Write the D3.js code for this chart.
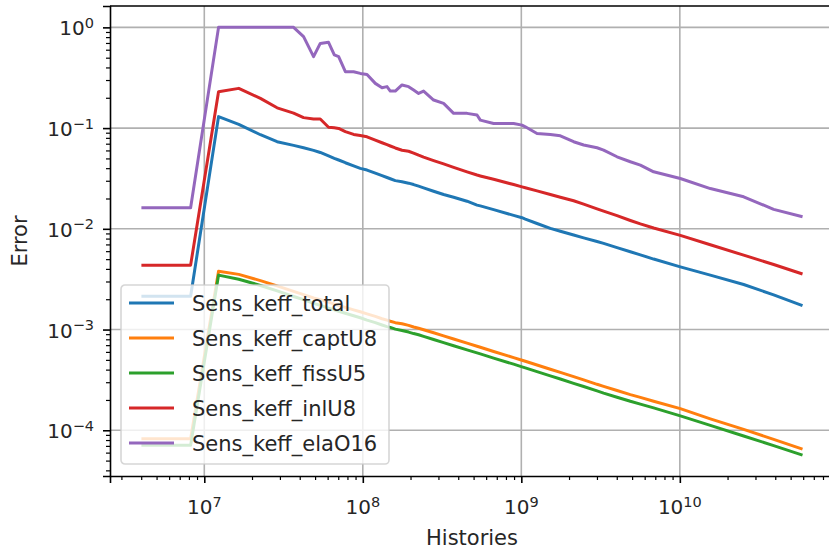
<!DOCTYPE html>
<html>
<head>
<meta charset="utf-8">
<script src="https://cdn.jsdelivr.net/npm/d3@7"></script>
<style>
    body { margin: 0; background: #fff; }
    svg { display: block; font-family: 'DejaVu Sans', sans-serif; }
</style>
</head>
<body>
<svg width="829" height="549"></svg>
<script>
// Number of histories at each sample point (shared by all series)
const histories = [
    4.1e6, 8.2e6, 1.23e7, 1.65e7, 2.26e7, 2.88e7, 3.66e7, 4.23e7, 4.89e7, 5.39e7,
    6.08e7, 6.61e7, 7.04e7, 7.76e7, 8.75e7, 9.64e7, 1.063e8, 1.199e8, 1.322e8, 1.421e8,
    1.491e8, 1.603e8, 1.767e8, 1.945e8, 2.092e8, 2.249e8, 2.418e8, 2.797e8, 3.234e8, 3.741e8,
    4.544e8, 5.254e8, 5.512e8, 6.687e8, 8.94e8, 1.01e9, 1.06e9, 1.256e9, 1.524e9, 1.763e9,
    2.138e9, 2.473e9, 3.004e9, 3.305e9, 4.016e9, 4.873e9, 5.636e9, 6.834e9, 1.007e10, 1.557e10,
    2.527e10, 3.907e10, 5.82e10
];

const seriesNames = ['Sens_keff_total', 'Sens_keff_captU8', 'Sens_keff_fissU5', 'Sens_keff_inlU8', 'Sens_keff_elaO16'];
const seriesColors = ['#1f77b4', '#ff7f0e', '#2ca02c', '#d62728', '#9467bd'];

const errTotal = [
    0.00214, 0.00214, 0.130, 0.109, 0.0859, 0.0732, 0.0674, 0.0638, 0.0601, 0.0573,
    0.0530, 0.0501, 0.0482, 0.0453, 0.0422, 0.0398, 0.0383, 0.0357, 0.0337, 0.0323,
    0.0314, 0.0301, 0.0293, 0.0284, 0.0275, 0.0265, 0.0255, 0.0236, 0.0219, 0.0206,
    0.0188, 0.0172, 0.0169, 0.0155, 0.0136, 0.0129, 0.0125, 0.0113, 0.0101, 0.00945,
    0.00868, 0.00814, 0.00748, 0.00716, 0.00650, 0.00592, 0.00552, 0.00501, 0.00419, 0.00347,
    0.00280, 0.00221, 0.00175
];

const errCaptU8 = [
    8.26e-5, 8.26e-5, 0.00380, 0.00353, 0.00306, 0.00271, 0.00239, 0.00222, 0.00206, 0.00198,
    0.00187, 0.00179, 0.00174, 0.00166, 0.00157, 0.00150, 0.00143, 0.00135, 0.00128, 0.00124,
    0.00121, 0.00117, 0.00114, 0.00110, 0.00106, 0.00103, 0.000996, 0.000929, 0.000865, 0.000805,
    0.000733, 0.000683, 0.000667, 0.000606, 0.000527, 0.000496, 0.000484, 0.000445, 0.000404, 0.000376,
    0.000341, 0.000317, 0.000286, 0.000273, 0.000248, 0.000226, 0.000212, 0.000194, 0.000164, 0.000130,
    0.000102, 8.13e-5, 6.57e-5
];

const errFissU5 = [
    7.10e-5, 7.10e-5, 0.00347, 0.00316, 0.00274, 0.00242, 0.00213, 0.00198, 0.00182, 0.00174,
    0.00163, 0.00157, 0.00152, 0.00145, 0.00137, 0.00131, 0.00124, 0.00117, 0.00111, 0.00107,
    0.00105, 0.00101, 0.000979, 0.000944, 0.000912, 0.000887, 0.000855, 0.000796, 0.000742, 0.000691,
    0.000629, 0.000586, 0.000573, 0.000520, 0.000453, 0.000426, 0.000416, 0.000382, 0.000347, 0.000323,
    0.000292, 0.000272, 0.000246, 0.000234, 0.000213, 0.000194, 0.000182, 0.000167, 0.000139, 0.000112,
    8.77e-5, 7.05e-5, 5.73e-5
];

const errInlU8 = [
    0.00436, 0.00436, 0.230, 0.248, 0.197, 0.159, 0.141, 0.127, 0.123, 0.123,
    0.102, 0.101, 0.0993, 0.0924, 0.0865, 0.0843, 0.0820, 0.0759, 0.0715, 0.0684,
    0.0664, 0.0635, 0.0603, 0.0589, 0.0565, 0.0538, 0.0514, 0.0475, 0.0441, 0.0408,
    0.0368, 0.0342, 0.0335, 0.0310, 0.0275, 0.0261, 0.0256, 0.0238, 0.0219, 0.0206,
    0.0190, 0.0176, 0.0158, 0.0150, 0.0135, 0.0121, 0.0112, 0.0102, 0.00861, 0.00695,
    0.00548, 0.00442, 0.00360
];

const errElaO16 = [
    0.0162, 0.0162, 1.0, 1.0, 1.0, 1.0, 1.0, 0.808, 0.512, 0.693,
    0.710, 0.532, 0.512, 0.363, 0.363, 0.349, 0.341, 0.278, 0.252, 0.258,
    0.233, 0.233, 0.268, 0.258, 0.239, 0.221, 0.233, 0.190, 0.176, 0.140,
    0.140, 0.135, 0.120, 0.111, 0.111, 0.107, 0.103, 0.0885, 0.0865, 0.0839,
    0.0732, 0.0679, 0.0638, 0.0605, 0.0519, 0.0463, 0.0429, 0.0368, 0.0316, 0.0251,
    0.0208, 0.0156, 0.0133
];

const seriesValues = [errTotal, errCaptU8, errFissU5, errInlU8, errElaO16];

const xTickValues = [1e7, 1e8, 1e9, 1e10];
const yTickValues = [1e0, 1e-1, 1e-2, 1e-3, 1e-4];

const svg = d3.select('svg');
const plotLeft = 110, plotRight = 834, plotTop = 6, plotBottom = 476;

// Axis limits follow matplotlib's 5% margin on log axes
const xLog = d3.extent(histories).map(Math.log10);
const yLog = d3.extent(seriesValues.flat()).map(Math.log10);
const xPad = (xLog[1] - xLog[0]) * 0.05;
const yPad = (yLog[1] - yLog[0]) * 0.05;

const x = d3.scaleLog()
    .domain([10 ** (xLog[0] - xPad), 10 ** (xLog[1] + xPad)])
    .range([plotLeft, plotRight]);
const y = d3.scaleLog()
    .domain([10 ** (yLog[0] - yPad), 10 ** (yLog[1] + yPad)])
    .range([plotBottom, plotTop]);

function minorTicks(scale, lo, hi)
{
    const ticks = [];
    const dom = scale.domain().slice().sort((a, b) => a - b);
    for (let e = lo; e <= hi; e++)
        for (let m = 2; m <= 9; m++)
        {
            const v = m * 10 ** e;
            if (v >= dom[0] && v <= dom[1]) ticks.push(v);
        }
    return ticks;
}

svg.append('defs').append('clipPath').attr('id', 'plot-clip')
    .append('rect')
    .attr('x', plotLeft).attr('y', plotTop)
    .attr('width', plotRight - plotLeft).attr('height', plotBottom - plotTop);

// Grid lines at the major ticks
const grid = svg.append('g').attr('class', 'grid');
grid.selectAll('line.gx')
    .data(xTickValues)
    .enter().append('line')
    .attr('x1', d => x(d)).attr('x2', d => x(d))
    .attr('y1', plotTop).attr('y2', plotBottom)
    .style('stroke', '#b0b0b0').style('stroke-width', 1.6);
grid.selectAll('line.gy')
    .data(yTickValues)
    .enter().append('line')
    .attr('x1', plotLeft).attr('x2', plotRight)
    .attr('y1', d => y(d)).attr('y2', d => y(d))
    .style('stroke', '#b0b0b0').style('stroke-width', 1.6);

// Series lines
const line = d3.line()
    .x((d, i) => x(histories[i]))
    .y(d => y(d));

svg.append('g')
    .attr('clip-path', 'url(#plot-clip)')
    .selectAll('path')
    .data(seriesValues)
    .enter().append('path')
    .attr('d', line)
    .style('fill', 'none')
    .style('stroke', (d, i) => seriesColors[i])
    .style('stroke-width', 3)
    .style('stroke-linejoin', 'round')
    .style('stroke-linecap', 'square');

// Axes: major ticks are labelled by hand with superscripts below
const xAxis = svg.append('g')
    .attr('transform', 'translate(0,' + plotBottom + ')')
    .call(d3.axisBottom(x).tickValues(xTickValues).tickSize(7).tickFormat(''));
svg.append('g')
    .attr('transform', 'translate(0,' + plotBottom + ')')
    .call(d3.axisBottom(x).tickValues(minorTicks(x, 6, 10)).tickSize(4).tickFormat(''))
    .call(g => g.select('.domain').remove())
    .selectAll('line').style('stroke-width', 1.2);

const yAxis = svg.append('g')
    .attr('transform', 'translate(' + plotLeft + ',0)')
    .call(d3.axisLeft(y).tickValues(yTickValues).tickSize(7).tickFormat(''));
svg.append('g')
    .attr('transform', 'translate(' + plotLeft + ',0)')
    .call(d3.axisLeft(y).tickValues(minorTicks(y, -5, 0)).tickSize(4).tickFormat(''))
    .call(g => g.select('.domain').remove())
    .selectAll('line').style('stroke-width', 1.2);

[xAxis, yAxis].forEach(g =>
{
    g.select('.domain').style('stroke-width', 1.6);
    g.selectAll('.tick line').style('stroke-width', 1.6);
});

// Top and right spines (the right one falls outside the picture)
svg.append('line')
    .attr('x1', plotLeft).attr('x2', plotRight)
    .attr('y1', plotTop).attr('y2', plotTop)
    .style('stroke', '#000').style('stroke-width', 1.6);
svg.append('line')
    .attr('x1', plotRight).attr('x2', plotRight)
    .attr('y1', plotTop).attr('y2', plotBottom)
    .style('stroke', '#000').style('stroke-width', 1.6);

function powerLabel(sel, exponent)
{
    sel.append('tspan').text('10');
    sel.append('tspan')
        .attr('dy', -7.5)
        .style('font-size', '14.5px')
        .text(exponent < 0 ? '\u2212' + (-exponent) : String(exponent));
}

xTickValues.forEach(v =>
{
    svg.append('text')
        .attr('x', x(v))
        .attr('y', 514)
        .attr('text-anchor', 'middle')
        .style('font-size', '20px')
        .style('fill', '#262626')
        .call(powerLabel, Math.round(Math.log10(v)));
});

yTickValues.forEach(v =>
{
    svg.append('text')
        .attr('x', 94)
        .attr('y', y(v) + 8)
        .attr('text-anchor', 'end')
        .style('font-size', '20px')
        .style('fill', '#262626')
        .call(powerLabel, Math.round(Math.log10(v)));
});

svg.append('text')
    .attr('x', (plotLeft + plotRight) / 2)
    .attr('y', 545)
    .attr('text-anchor', 'middle')
    .style('font-size', '21px')
    .style('fill', '#262626')
    .text('Histories');

svg.append('text')
    .attr('transform', 'translate(27,' + ((plotTop + plotBottom) / 2) + ') rotate(-90)')
    .attr('text-anchor', 'middle')
    .style('font-size', '21px')
    .style('fill', '#262626')
    .text('Error');

// Legend in the lower left corner
const legend = svg.append('g').attr('transform', 'translate(121,285)');
legend.append('rect')
    .attr('width', 268).attr('height', 179)
    .attr('rx', 4).attr('ry', 4)
    .style('fill', 'rgba(255,255,255,0.8)')
    .style('stroke', 'rgba(204,204,204,0.8)')
    .style('stroke-width', 1.6);

const entry = legend.selectAll('g.entry')
    .data(seriesNames)
    .enter().append('g')
    .attr('transform', (d, i) => 'translate(0,' + (18 + i * 35) + ')');
entry.append('line')
    .attr('x1', 8).attr('x2', 53)
    .style('stroke', (d, i) => seriesColors[i])
    .style('stroke-width', 3);
entry.append('text')
    .attr('x', 71).attr('y', 7.5)
    .style('font-size', '21px')
    .style('fill', '#262626')
    .text(d => d);
</script>
</body>
</html>
